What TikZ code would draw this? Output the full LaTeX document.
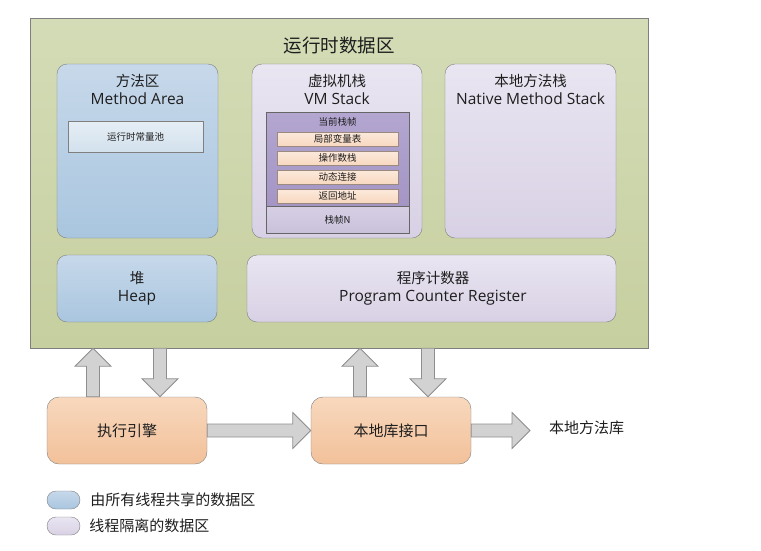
\documentclass[tikz,border=0pt]{standalone}
\usepackage{fontspec}
\setmainfont{Noto Sans CJK SC}
\newfontfamily\enfont{Open Sans}
\usepackage{tikz}
\usetikzlibrary{positioning,calc}

\definecolor{txt}{HTML}{1E1E1E}
\definecolor{boxline}{HTML}{7F7F7F}
\definecolor{greentop}{HTML}{D4DCB7}
\definecolor{greenbot}{HTML}{C6CF9F}
\definecolor{bluetop}{HTML}{C7D8EA}
\definecolor{bluebot}{HTML}{A9C6DF}
\definecolor{lavtop}{HTML}{E9E5F1}
\definecolor{lavbot}{HTML}{D8D1E5}
\definecolor{pooltop}{HTML}{E6EEF5}
\definecolor{poolbot}{HTML}{D2E1ED}
\definecolor{curtop}{HTML}{B3A6D0}
\definecolor{curbot}{HTML}{A495C5}
\definecolor{fntop}{HTML}{D6CFE4}
\definecolor{fnbot}{HTML}{C9C1DB}
\definecolor{peachtop}{HTML}{FCE9DB}
\definecolor{peachbot}{HTML}{F8D8C0}
\definecolor{slotline}{HTML}{9C8A7E}
\definecolor{orgtop}{HTML}{F8D8BD}
\definecolor{orgbot}{HTML}{F2C19A}
\definecolor{arrfill}{HTML}{D2D2D2}
\definecolor{arrline}{HTML}{8E8E8E}

\newcommand{\en}[1]{{\enfont\fontsize{15.5}{18}\selectfont #1}}
\newcommand{\fatarrow}[2]{%
  \draw[fatarrow] let \p1=(#1), \p2=(#2),
    \n1={atan2(\y2-\y1,\x2-\x1)}, \n2={veclen(\x2-\x1,\y2-\y1)} in
    [shift={(\p1)}, rotate=\n1]
    (0pt,-6.5pt) -- ({\n2*1pt-18pt},-6.5pt) -- ({\n2*1pt-18pt},-18pt) -- ({\n2*1pt},0pt)
    -- ({\n2*1pt-18pt},18pt) -- ({\n2*1pt-18pt},6.5pt) -- (0pt,6.5pt) -- cycle;}

\begin{document}
\begin{tikzpicture}[x=1pt, y=-1pt, font=\fontsize{14.5}{18}\selectfont, text=txt, node distance=4.7pt]
  \tikzstyle{shared}=[draw=boxline, rounded corners=10pt, top color=bluetop, bottom color=bluebot]
  \tikzstyle{private}=[draw=boxline, rounded corners=10pt, top color=lavtop, bottom color=lavbot]
  \tikzstyle{slot}=[draw=slotline, top color=peachtop, bottom color=peachbot, minimum width=121pt, minimum height=14pt, inner sep=0pt, font=\fontsize{9.5}{11}\selectfont]
  \tikzstyle{unit}=[draw=boxline, rounded corners=12pt, top color=orgtop, bottom color=orgbot, minimum width=160pt, minimum height=67pt, font=\fontsize{15}{18}\selectfont]
  \tikzstyle{head}=[align=center, inner sep=0pt]
  \tikzstyle{small}=[inner sep=0pt, font=\fontsize{9.5}{11}\selectfont]
  \tikzstyle{plain}=[inner sep=0pt, font=\fontsize{15}{18}\selectfont]
  \tikzstyle{fatarrow}=[draw=arrline, fill=arrfill, line width=0.8pt]

  \useasboundingbox (0,0) rectangle (761,550);

  % runtime data area
  \node[draw=boxline, top color=greentop, bottom color=greenbot, minimum width=618pt, minimum height=330pt] (rtda) at (339,183) {};
  \node[head, font=\fontsize{18.5}{22}\selectfont] (rtdahead) at (339,45) {运行时数据区};

  \node[shared, minimum width=161pt, minimum height=174pt] (ma) at (137.5,151) {};
  \node[head] (mahead) at (137.5,89) {方法区\\\en{Method Area}};
  \node[draw=boxline, top color=pooltop, bottom color=poolbot, minimum width=135pt, minimum height=31pt, small] (pool) at (135.5,136.5) {运行时常量池};

  \node[private, minimum width=170pt, minimum height=174pt] (vms) at (337,151) {};
  \node[head] (vmshead) at (337,89) {虚拟机栈\\\en{VM Stack}};
  \node[draw=boxline!80!black, top color=curtop, bottom color=curbot, minimum width=143pt, minimum height=94pt] (cur) at (337.5,159) {};
  \node[draw=boxline!80!black, top color=fntop, bottom color=fnbot, minimum width=143pt, minimum height=27pt, small, below=0pt of cur] (fn) {栈帧N};
  \node[small] (curhead) at (337.5,122) {当前栈帧};
  \node[slot] (s1) at (337.5,139) {局部变量表};
  \node[slot, below=of s1] (s2) {操作数栈};
  \node[slot, below=of s2] (s3) {动态连接};
  \node[slot, below=of s3] (s4) {返回地址};

  \node[private, minimum width=171pt, minimum height=174pt] (nms) at (530.5,151) {};
  \node[head] (nmshead) at (530.5,89) {本地方法栈\\\en{Native Method Stack}};

  \node[shared, minimum width=160pt, minimum height=67pt] (heap) at (137,288.5) {};
  \node[head] (heaphead) at (137,288) {堆\\\en{Heap}};
  \node[private, minimum width=369pt, minimum height=67pt] (pc) at (431.5,288.5) {};
  \node[head] (pchead) at (433,288) {程序计数器\\\en{Program Counter Register}};

  % engine and native interface
  \node[unit] (ee) at (127,430.5) {执行引擎};
  \node[unit] (nli) at (391,430.5) {本地库接口};
  \node[plain, anchor=west] (nml) at (549,428) {本地方法库};

  \coordinate (ee1) at ([xshift=-34pt]ee.north);
  \coordinate (ee2) at ([xshift=33pt]ee.north);
  \coordinate (nl1) at ([xshift=-31pt]nli.north);
  \coordinate (nl2) at ([xshift=37pt]nli.north);
  \coordinate (nmltip) at ([xshift=-19pt]nml.west |- nli.east);
  \fatarrow{ee1}{ee1 |- rtda.south}
  \fatarrow{ee2 |- rtda.south}{ee2}
  \fatarrow{nl1}{nl1 |- rtda.south}
  \fatarrow{nl2 |- rtda.south}{nl2}
  \fatarrow{ee.east}{nli.west}
  \fatarrow{nli.east}{nmltip}

  % legend
  \node[shared, rounded corners=9pt, minimum width=33pt, minimum height=18pt] (lg1) at (63.5,500) {};
  \node[plain, right=10pt of lg1] (lg1text) {由所有线程共享的数据区};
  \node[private, rounded corners=9pt, minimum width=33pt, minimum height=18pt] (lg2) at (63.5,526) {};
  \node[plain, right=9pt of lg2] (lg2text) {线程隔离的数据区};
\end{tikzpicture}
\end{document}
